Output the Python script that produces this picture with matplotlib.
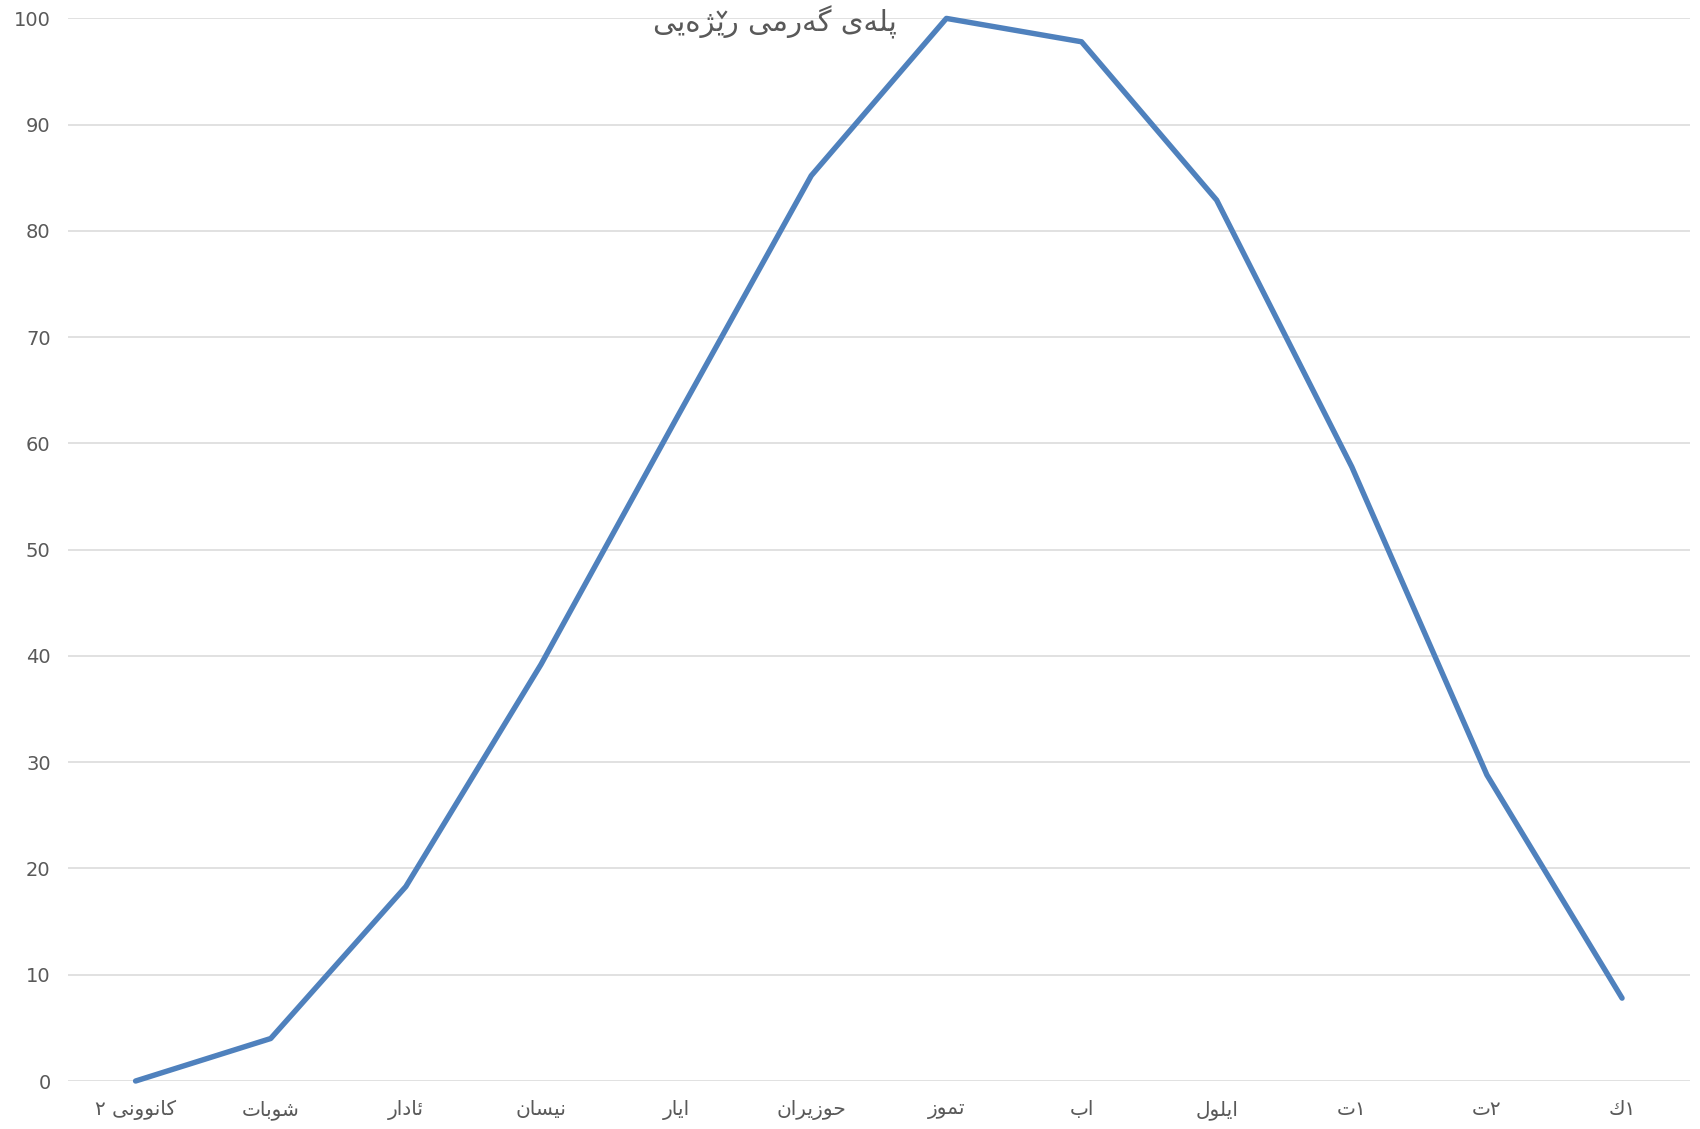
import numpy as np
import matplotlib
matplotlib.use("Agg")
import matplotlib.pyplot as plt
from matplotlib.font_manager import FontProperties
from matplotlib.lines import Line2D

plt.rcParams.update({"font.family": ["DejaVu Sans"], "font.size": 11})

# month labels in logical order (Sorani Kurdish)
months = ["کانوونی ٢", "شوبات", "ئادار", "نیسان", "ایار", "حوزیران",
          "تموز", "اب", "ایلول", "١ت", "٢ت", "١ك"]
values = [0.0, 4.0, 18.3, 39.2, 62.3, 85.2, 100.0, 97.8, 82.9, 57.8, 28.8, 7.8]
title = "پلەی گەرمی رێژەیی"

# matplotlib does no arabic shaping, so pick the presentation forms by hand
# (isolated, final, initial, medial); None = letter only joins to the right
FORMS = {
    "ا": ("\uFE8D", "\uFE8E", None, None),
    "ب": ("\uFE8F", "\uFE90", "\uFE91", "\uFE92"),
    "پ": ("\uFB56", "\uFB57", "\uFB58", "\uFB59"),
    "ت": ("\uFE95", "\uFE96", "\uFE97", "\uFE98"),
    "ح": ("\uFEA1", "\uFEA2", "\uFEA3", "\uFEA4"),
    "د": ("\uFEA9", "\uFEAA", None, None),
    "ر": ("\uFEAD", "\uFEAE", None, None),
    "ز": ("\uFEAF", "\uFEB0", None, None),
    "ژ": ("\uFB8A", "\uFB8B", None, None),
    "س": ("\uFEB1", "\uFEB2", "\uFEB3", "\uFEB4"),
    "ش": ("\uFEB5", "\uFEB6", "\uFEB7", "\uFEB8"),
    "ک": ("\uFB8E", "\uFB8F", "\uFB90", "\uFB91"),
    "ك": ("\uFED9", "\uFEDA", "\uFEDB", "\uFEDC"),
    "گ": ("\uFB92", "\uFB93", "\uFB94", "\uFB95"),
    "ل": ("\uFEDD", "\uFEDE", "\uFEDF", "\uFEE0"),
    "م": ("\uFEE1", "\uFEE2", "\uFEE3", "\uFEE4"),
    "ن": ("\uFEE5", "\uFEE6", "\uFEE7", "\uFEE8"),
    "و": ("\uFEED", "\uFEEE", None, None),
    "ە": ("\uFEE9", "\uFEEA", None, None),
    "ی": ("\uFBFC", "\uFBFD", "\uFBFE", "\uFBFF"),
    "ێ": ("\uFBFC", "\uFBFD", "\uFBFE", "\uFBFF"),  # v mark drawn on top
    "ئ": ("\uFE89", "\uFE8A", "\uFE8B", "\uFE8C"),
}


def shape(text):
    """return visual string and the positions that need the small v (ێ)"""
    glyphs, marks = [], []
    for i, ch in enumerate(text):
        if ch not in FORMS:
            glyphs.append(ch)
            continue
        prev = text[i - 1] if i > 0 else ""
        nxt = text[i + 1] if i + 1 < len(text) else ""
        join_prev = prev in FORMS and FORMS[prev][2] is not None
        join_next = FORMS[ch][2] is not None and nxt in FORMS
        iso, fin, ini, med = FORMS[ch]
        if join_prev and join_next:
            g = med
        elif join_prev:
            g = fin
        elif join_next:
            g = ini
        else:
            g = iso
        if ch == "ێ":
            marks.append(i)
        glyphs.append(g)
    n = len(glyphs)
    return "".join(glyphs[::-1]), [n - 1 - k for k in marks]


fig = plt.figure(figsize=(17, 11.29), dpi=100)
ax = fig.add_axes([0.04, 0.0425, 0.9539, 0.9412])

x = np.arange(len(months))
ax.plot(x, values, color="#4F81BD", lw=3.9, solid_capstyle="round",
        solid_joinstyle="round", clip_on=False, zorder=3)

ax.set_xlim(-0.5, len(months) - 0.5)
ax.set_ylim(0, 100)
ax.set_yticks(np.arange(0, 101, 10))
ax.set_xticks(x)
ax.set_xticklabels([shape(m)[0] for m in months])
ax.grid(axis="y", color="#D9D9D9", lw=1.1)
ax.set_axisbelow(True)
for s in ax.spines.values():
    s.set_visible(False)
ax.tick_params(axis="y", length=0, pad=12.5, colors="#595959", labelsize=14)
ax.tick_params(axis="x", length=0, pad=13.5, colors="#595959", labelsize=14.5)

# title, plus the small v of ێ drawn over its glyph
tx, ty = 0.456 * 1700, 1129 - 22
vis, marks = shape(title)
prop = FontProperties(family="DejaVu Sans", size=21)
fig.text(tx / 1700, ty / 1129, vis, ha="center", va="center",
         fontproperties=prop, color="#595959")
renderer = fig.canvas.get_renderer()
w_all = renderer.get_text_width_height_descent(vis, prop, ismath=False)[0]
for k in marks:
    w_left = renderer.get_text_width_height_descent(vis[:k], prop, ismath=False)[0] if k else 0
    w_g = renderer.get_text_width_height_descent(vis[k], prop, ismath=False)[0]
    mx = tx - w_all / 2 + w_left + w_g / 2 + 1
    my = ty + 7
    vx = np.array([mx - 4, mx, mx + 4]) / 1700
    vy = np.array([my + 3, my - 2.5, my + 3]) / 1129
    fig.add_artist(Line2D(vx, vy, transform=fig.transFigure, color="#595959",
                          lw=1.6, solid_joinstyle="miter"))

fig.savefig("out.png", dpi=100)
